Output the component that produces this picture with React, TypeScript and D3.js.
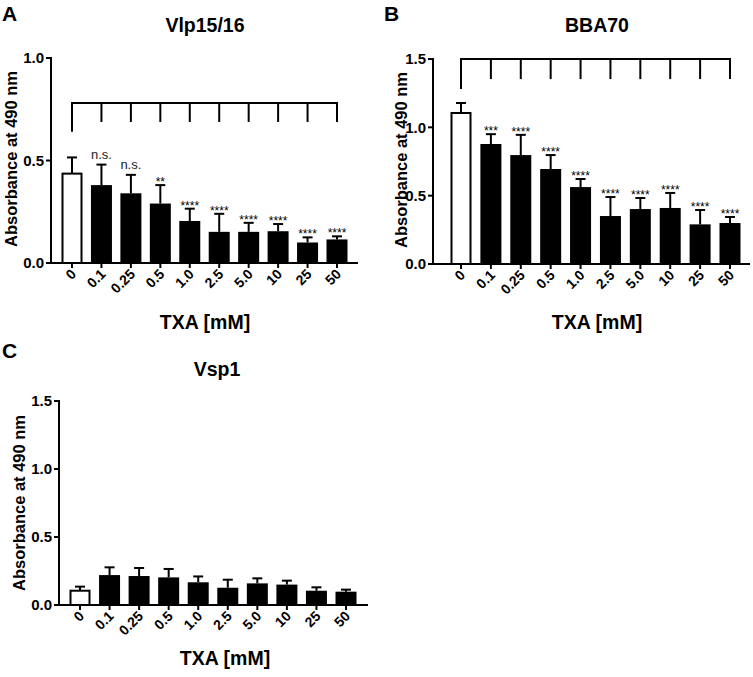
import React from "react";
import * as d3 from "d3";

const doses = ["0", "0.1", "0.25", "0.5", "1.0", "2.5", "5.0", "10", "25", "50"];

const vlpMean = [0.436, 0.38, 0.34, 0.29, 0.205, 0.152, 0.152, 0.155, 0.1, 0.115];
const vlpSd = [0.079, 0.1, 0.09, 0.09, 0.06, 0.088, 0.044, 0.035, 0.025, 0.015];
const vlpSig = ["", "n.s.", "n.s.", "**", "****", "****", "****", "****", "****", "****"];

const bbaMean = [1.105, 0.878, 0.797, 0.695, 0.563, 0.351, 0.402, 0.41, 0.29, 0.3];
const bbaSd = [0.073, 0.072, 0.148, 0.102, 0.059, 0.139, 0.081, 0.11, 0.105, 0.044];
const bbaSig = ["", "***", "****", "****", "****", "****", "****", "****", "****", "****"];

const vspMean = [0.105, 0.22, 0.213, 0.203, 0.167, 0.127, 0.159, 0.15, 0.105, 0.098];
const vspSd = [0.03, 0.057, 0.059, 0.062, 0.043, 0.059, 0.037, 0.029, 0.025, 0.015];
const vspSig = ["", "", "", "", "", "", "", "", "", ""];

const ticksA = [0, 0.5, 1.0];
const ticksBC = [0, 0.5, 1.0, 1.5];

const FONT = "'Liberation Sans', Arial, Helvetica, sans-serif";

type PanelProps = {
  label: string;
  labelX: number;
  labelY: number;
  title: string;
  titleX: number;
  titleY: number;
  xLabelX: number;
  xLabelY: number;
  yLabelX: number;
  yLabelY: number;
  x0: number;
  xEnd: number;
  yTop: number;
  yBottom: number;
  yMax: number;
  yTicks: number[];
  c0: number;
  c1: number;
  mean: number[];
  sd: number[];
  sig: string[];
  bracket?: { level: number; tickEnd: number; firstEnd: number };
};

function Panel(p: PanelProps) {
  const y = d3.scaleLinear().domain([0, p.yMax]).range([p.yBottom, p.yTop]);
  const x = d3.scalePoint<string>().domain(doses).range([p.c0, p.c1]);
  const bw = 21;
  const cap = 10;
  const sw = 2;
  return (
    <g fontFamily={FONT}>
      <text x={p.labelX} y={p.labelY} fontSize={21} fontWeight="bold">{p.label}</text>
      <text x={p.titleX} y={p.titleY} fontSize={19.5} fontWeight="bold" textAnchor="middle">{p.title}</text>
      <text x={p.xLabelX} y={p.xLabelY} fontSize={19.5} fontWeight="bold" textAnchor="middle">TXA [mM]</text>
      <text
        transform={`translate(${p.yLabelX},${p.yLabelY}) rotate(-90)`}
        fontSize={16.5}
        fontWeight="bold"
        textAnchor="middle"
      >
        Absorbance at 490 nm
      </text>
      {/* bars */}
      {doses.map((d, i) => {
        const cx = x(d)!;
        const top = y(p.mean[i]);
        const errTop = y(p.mean[i] + p.sd[i]);
        const white = i === 0;
        return (
          <g key={d}>
            <line x1={cx} x2={cx} y1={top} y2={errTop} stroke="#000" strokeWidth={sw} />
            <line x1={cx - cap / 2} x2={cx + cap / 2} y1={errTop} y2={errTop} stroke="#000" strokeWidth={sw} />
            <rect
              x={cx - bw / 2 + (white ? 1 : 0)}
              y={top}
              width={bw - (white ? 2 : 0)}
              height={p.yBottom - top}
              fill={white ? "#fff" : "#000"}
              stroke="#000"
              strokeWidth={white ? sw : 0}
            />
            {p.sig[i] ? (
              p.sig[i] === "n.s." ? (
                <text x={cx} y={errTop - 6} fontSize={13} textAnchor="middle" fill="#222">n.s.</text>
              ) : (
                <text x={cx} y={errTop + 1} fontSize={12} textAnchor="middle" fill="#000">{p.sig[i]}</text>
              )
            ) : null}
          </g>
        );
      })}
      {/* axes */}
      <line x1={p.x0} x2={p.x0} y1={p.yTop - 1} y2={p.yBottom} stroke="#000" strokeWidth={sw} />
      <line x1={p.x0 - 1} x2={p.xEnd} y1={p.yBottom} y2={p.yBottom} stroke="#000" strokeWidth={sw} />
      {p.yTicks.map((t) => (
        <g key={t}>
          <line x1={p.x0 - 5} x2={p.x0} y1={y(t)} y2={y(t)} stroke="#000" strokeWidth={sw} />
          <text x={p.x0 - 7} y={y(t)} dy="0.36em" fontSize={15} fontWeight="bold" textAnchor="end">
            {t.toFixed(1)}
          </text>
        </g>
      ))}
      {doses.map((d) => {
        const cx = x(d)!;
        return (
          <g key={"xt" + d}>
            <line x1={cx} x2={cx} y1={p.yBottom} y2={p.yBottom + 5} stroke="#000" strokeWidth={sw} />
            <text
              transform={`translate(${cx + 5},${p.yBottom + 12}) rotate(-45)`}
              fontSize={14}
              fontWeight="bold"
              textAnchor="end"
            >
              {d}
            </text>
          </g>
        );
      })}
      {p.bracket ? (
        <g stroke="#000" strokeWidth={sw} fill="none">
          <line x1={p.c0 - 1} x2={p.c1 + 1} y1={y(p.bracket.level)} y2={y(p.bracket.level)} />
          {doses.map((d, i) => (
            <line
              key={"br" + d}
              x1={x(d)!}
              x2={x(d)!}
              y1={y(p.bracket!.level)}
              y2={y(i === 0 ? p.bracket!.firstEnd : p.bracket!.tickEnd)}
            />
          ))}
        </g>
      ) : null}
    </g>
  );
}

export default function App() {
  return (
    <svg
      width={753}
      height={677}
      style={{ position: "absolute", left: 0, top: 0, background: "#fff" }}
    >
      <rect width={753} height={677} fill="#fff" />
      <Panel
        label="A"
        labelX={2}
        labelY={21}
        title="Vlp15/16"
        titleX={205}
        titleY={32}
        xLabelX={205}
        xLabelY={329}
        yLabelX={17}
        yLabelY={159}
        x0={51}
        xEnd={358}
        yTop={58}
        yBottom={263}
        yMax={1.0}
        yTicks={ticksA}
        c0={72}
        c1={337}
        mean={vlpMean}
        sd={vlpSd}
        sig={vlpSig}
        bracket={{ level: 0.78, tickEnd: 0.688, firstEnd: 0.64 }}
      />
      <Panel
        label="B"
        labelX={384}
        labelY={21}
        title="BBA70"
        titleX={597}
        titleY={32}
        xLabelX={597}
        xLabelY={329}
        yLabelX={407}
        yLabelY={160}
        x0={433}
        xEnd={750}
        yTop={59}
        yBottom={264}
        yMax={1.5}
        yTicks={ticksBC}
        c0={461}
        c1={730}
        mean={bbaMean}
        sd={bbaSd}
        sig={bbaSig}
        bracket={{ level: 1.5, tickEnd: 1.353, firstEnd: 1.28 }}
      />
      <Panel
        label="C"
        labelX={2}
        labelY={358}
        title="Vsp1"
        titleX={217}
        titleY={376}
        xLabelX={225}
        xLabelY={665}
        yLabelX={25}
        yLabelY={503}
        x0={59}
        xEnd={368}
        yTop={401}
        yBottom={605}
        yMax={1.5}
        yTicks={ticksBC}
        c0={80}
        c1={346}
        mean={vspMean}
        sd={vspSd}
        sig={vspSig}
      />
    </svg>
  );
}
